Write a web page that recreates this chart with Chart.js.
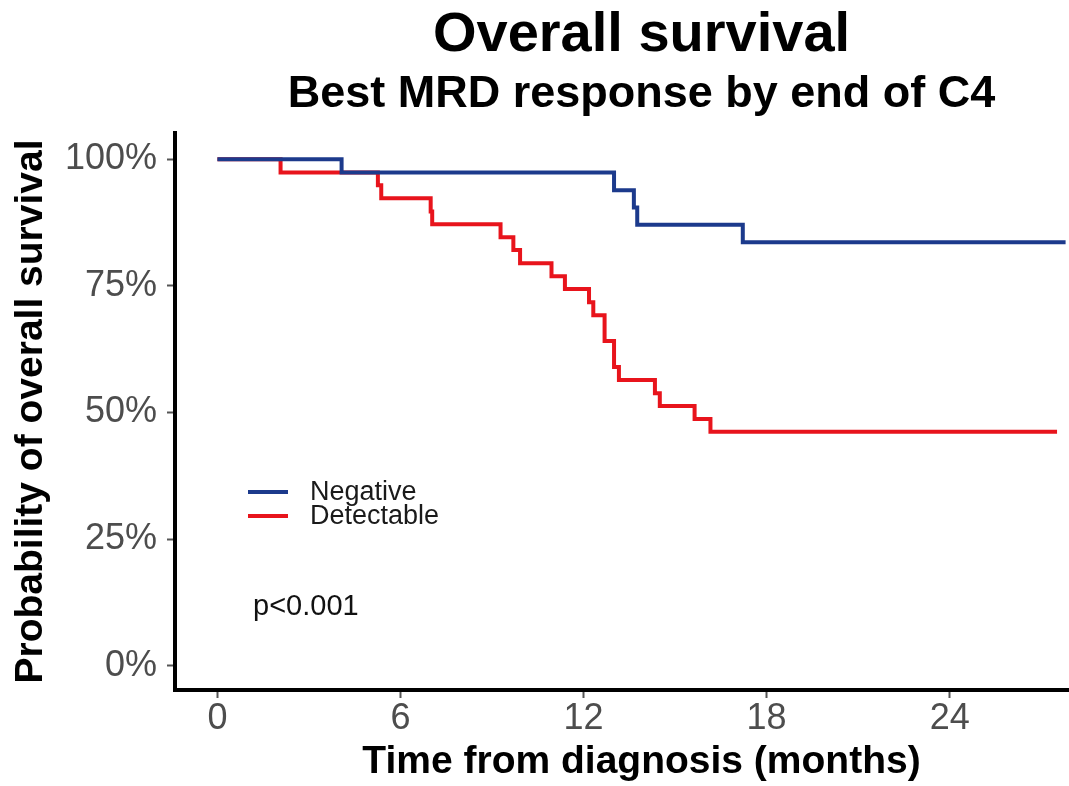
<!DOCTYPE html>
<html>
<head>
<meta charset="utf-8">
<title>Overall survival</title>
<script src="https://cdn.jsdelivr.net/npm/chart.js@4.4.1/dist/chart.umd.min.js"></script>
<style>
  html, body { margin: 0; padding: 0; background: #fff; overflow: hidden; }
  #wrap { width: 1108px; height: 786px; }
</style>
</head>
<body>
<div id="wrap"><canvas id="osChart" width="1108" height="786"></canvas></div>
<script>
// Kaplan-Meier steps (months, % surviving)
var negTime = [0, 4.07, 13.0, 13.65, 13.76, 17.22, 27.8];
var negSurv = [100, 97.4, 93.9, 90.5, 87.1, 83.6, 83.6];

var detTime = [0, 2.07, 5.26, 5.37, 6.99, 7.04, 9.28, 9.70, 9.92, 10.95, 11.39, 12.18, 12.32, 12.69, 13.0, 13.16, 14.34, 14.50, 15.64, 16.16, 27.52];
var detSurv = [100, 97.4, 94.9, 92.3, 89.7, 87.2, 84.6, 82.1, 79.5, 76.9, 74.4, 71.8, 69.2, 64.1, 59.0, 56.4, 53.8, 51.3, 48.7, 46.2, 46.2];

var xTicks = [0, 6, 12, 18, 24];
var yTicks = [0, 25, 50, 75, 100];

var FONT = "'Liberation Sans', Arial, Helvetica, sans-serif";

function toPoints(t, s) {
  var out = [];
  for (var i = 0; i < t.length; i++) out.push({x: t[i], y: s[i]});
  return out;
}

// legend + p value drawn inside the plot, like the ggsurvplot original
var insideText = {
  id: 'insideText',
  afterDatasetsDraw: function(chart) {
    var ctx = chart.ctx, a = chart.chartArea;
    ctx.save();
    ctx.textBaseline = 'middle';
    ctx.textAlign = 'left';
    chart.data.datasets.forEach(function(ds, i) {
      var y = a.top + 359 + i * 24;
      ctx.strokeStyle = ds.borderColor;
      ctx.lineWidth = 4;
      ctx.beginPath();
      ctx.moveTo(a.left + 73, y);
      ctx.lineTo(a.left + 113, y);
      ctx.stroke();
      ctx.fillStyle = '#1a1a1a';
      ctx.font = '27px ' + FONT;
      ctx.fillText(ds.label, a.left + 135, y + 1);
    });
    ctx.fillStyle = '#111';
    ctx.font = '29px ' + FONT;
    ctx.fillText('p<0.001', a.left + 78, a.top + 474);
    ctx.restore();
  }
};

var ctx = document.getElementById('osChart').getContext('2d');
var osChart = new Chart(ctx, {
  type: 'line',
  data: {
    datasets: [{
      label: 'Negative',
      data: toPoints(negTime, negSurv),
      borderColor: '#1c3a8c',
      borderWidth: 4,
      stepped: true,
      pointRadius: 0,
      fill: false
    }, {
      label: 'Detectable',
      data: toPoints(detTime, detSurv),
      borderColor: '#e8141c',
      borderWidth: 4,
      stepped: true,
      pointRadius: 0,
      fill: false
    }]
  },
  options: {
    responsive: false,
    animation: false,
    devicePixelRatio: 1,
    layout: { padding: 0 },
    plugins: {
      legend: { display: false },
      tooltip: { enabled: false },
      title: {
        display: true,
        text: 'Overall survival',
        fullSize: false,
        color: '#000',
        font: { family: FONT, size: 56, weight: 'bold', lineHeight: 1 },
        padding: { top: 8, bottom: 0 }
      },
      subtitle: {
        display: true,
        text: 'Best MRD response by end of C4',
        fullSize: false,
        color: '#000',
        font: { family: FONT, size: 45, weight: 'bold', lineHeight: 1 },
        padding: { top: 8, bottom: 16 }
      }
    },
    scales: {
      x: {
        type: 'linear',
        min: -1.39,
        max: 29.19,
        afterBuildTicks: function(axis) {
          axis.ticks = xTicks.map(function(v) { return {value: v}; });
        },
        afterFit: function(axis) { axis.height = 96; },
        border: { display: true, color: '#000', width: 4 },
        grid: { display: true, drawOnChartArea: false, drawTicks: true, tickLength: 8, tickColor: '#555', tickWidth: 2 },
        ticks: {
          color: '#4d4d4d',
          padding: 3,
          maxRotation: 0,
          font: { family: FONT, size: 36, lineHeight: 1 }
        },
        title: {
          display: true,
          text: 'Time from diagnosis (months)',
          color: '#000',
          font: { family: FONT, size: 39, weight: 'bold', lineHeight: 1 },
          padding: { top: 0, bottom: 4 }
        }
      },
      y: {
        type: 'linear',
        min: -4.8,
        max: 105.2,
        afterBuildTicks: function(axis) {
          axis.ticks = yTicks.map(function(v) { return {value: v}; });
        },
        afterFit: function(axis) { axis.width = 175; },
        border: { display: true, color: '#000', width: 4 },
        grid: { display: true, drawOnChartArea: false, drawTicks: true, tickLength: 8, tickColor: '#555', tickWidth: 2 },
        ticks: {
          color: '#4d4d4d',
          padding: 10,
          font: { family: FONT, size: 36, lineHeight: 1 },
          callback: function(v) { return v + '%'; }
        },
        title: {
          display: true,
          text: 'Probability of overall survival',
          color: '#000',
          font: { family: FONT, size: 39, weight: 'bold', lineHeight: 1 },
          padding: { top: 12, bottom: 0 }
        }
      }
    }
  },
  plugins: [insideText]
});
</script>
</body>
</html>
